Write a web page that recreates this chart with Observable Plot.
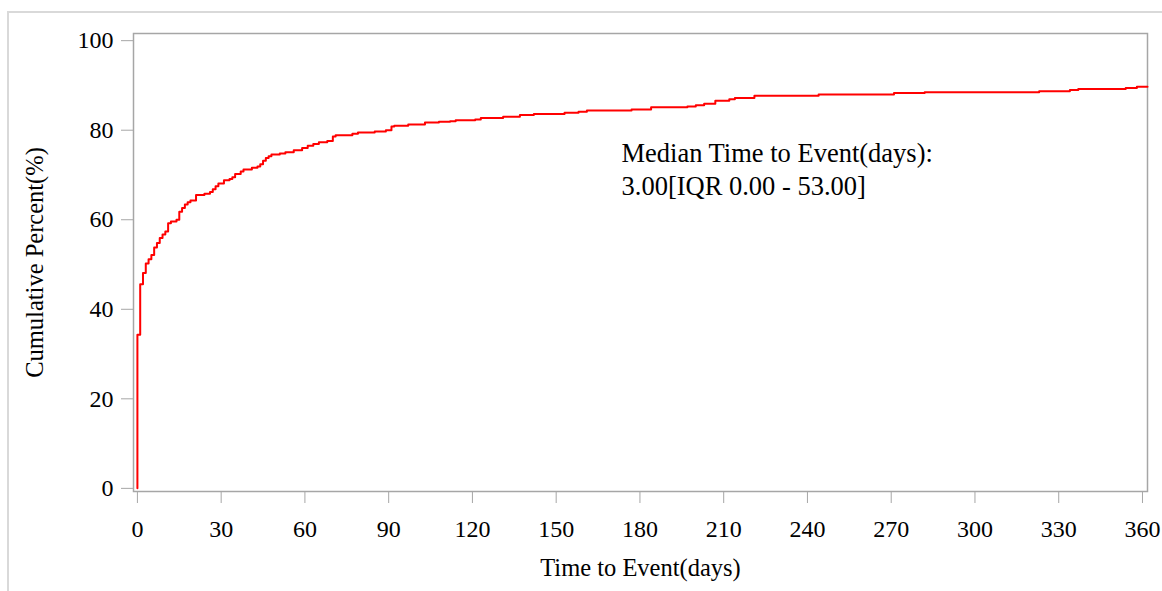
<!DOCTYPE html>
<html>
<head>
<meta charset="utf-8">
<script src="https://cdn.jsdelivr.net/npm/d3@7"></script>
<script src="https://cdn.jsdelivr.net/npm/@observablehq/plot@0.6"></script>
<style>
  html, body { margin: 0; padding: 0; background: #fff; }
  #wrap { position: relative; width: 1162px; height: 591px; overflow: hidden; }
  #border { position: absolute; left: 7px; top: 11px; width: 1200px; height: 700px;
            border-top: 2px solid #d9d9d9; border-left: 2px solid #d9d9d9; }
  #chart { position: absolute; left: 0; top: 0; }
</style>
</head>
<body>
<div id="wrap"><div id="border"></div><div id="chart"></div></div>
<script>
// Event times (days) and cumulative percent at each step
const days = [0, 0, 1, 2, 3, 4, 5, 6, 7, 8, 9, 10, 11, 12, 14, 15, 16, 17, 18, 19, 21, 24, 26, 27, 28, 29, 31, 33, 34, 35, 37, 38, 41, 43, 44, 45, 46, 47, 48, 51, 53, 56, 59, 61, 63, 65, 68, 70, 71, 77, 79, 85, 89, 91, 92, 97, 103, 108, 112, 114, 121, 123, 131, 137, 142, 153, 158, 161, 177, 184, 197, 200, 203, 207, 212, 214, 221, 244, 271, 282, 323, 334, 337, 354, 358, 361.8];
const cumPct = [0, 34.3, 45.6, 48.1, 50.2, 51.2, 52.1, 53.8, 54.8, 55.9, 56.7, 57.4, 59.2, 59.6, 60.0, 61.8, 62.6, 63.4, 63.9, 64.3, 65.5, 65.8, 66.2, 66.8, 67.5, 68.1, 68.8, 69.1, 69.5, 70.2, 70.8, 71.2, 71.6, 71.9, 72.4, 73.2, 73.8, 74.2, 74.6, 74.8, 75.1, 75.5, 76.0, 76.5, 76.9, 77.3, 77.6, 78.6, 78.9, 79.2, 79.5, 79.7, 80.0, 80.8, 81.0, 81.3, 81.7, 81.9, 82.0, 82.2, 82.4, 82.7, 83.0, 83.4, 83.6, 83.9, 84.1, 84.4, 84.6, 85.1, 85.3, 85.6, 85.9, 86.6, 86.9, 87.2, 87.7, 88.0, 88.3, 88.5, 88.7, 89.0, 89.2, 89.4, 89.7, 89.7];

const xTicks = [0, 30, 60, 90, 120, 150, 180, 210, 240, 270, 300, 330, 360];
const yTicks = [0, 20, 40, 60, 80, 100];

const annotationLines = ["Median Time to Event(days):", "3.00[IQR 0.00 - 53.00]"];
const annotationPos = {day: 173.4, pct: 71.5};

const xTitle = "Time to Event(days)";
const yTitle = "Cumulative Percent(%)";

const data = days.map((d, i) => ({day: d, pct: cumPct[i]}));

const gray = "#a6a6a6";
const fs = 24;

const chart = Plot.plot({
  width: 1162,
  height: 591,
  marginLeft: 133,
  marginRight: 15,
  marginTop: 33,
  marginBottom: 100,
  style: {fontFamily: "'Liberation Serif', 'Times New Roman', serif", fontSize: fs + "px", background: "transparent", color: "black"},
  x: {domain: [-1.4, 361.8]},
  y: {domain: [-0.7, 101.6]},
  marks: [
    Plot.frame({stroke: gray, strokeWidth: 1.5}),
    Plot.axisX({ticks: xTicks, tickSize: 12, tickPadding: 16, stroke: gray, color: "black", fontSize: fs, label: null, tickFormat: d => String(d)}),
    Plot.axisY({ticks: yTicks, tickSize: 12, tickPadding: 8, stroke: gray, color: "black", fontSize: fs, label: null, tickFormat: d => String(d)}),
    Plot.text([xTitle], {frameAnchor: "bottom", text: d => d, dy: 84, fontSize: fs + 0.5, fill: "black"}),
    Plot.text([yTitle], {frameAnchor: "left", textAnchor: "middle", text: d => d, dx: -98, rotate: -90, fontSize: fs + 0.5, fill: "black"}),
    Plot.line(data, {x: "day", y: "pct", curve: "step-after", stroke: "#ff0000", strokeWidth: 2}),
    Plot.text([annotationLines.join("\n")], {x: () => annotationPos.day, y: () => annotationPos.pct, text: d => d, textAnchor: "start", lineAnchor: "middle", lineHeight: 1.24, fontSize: fs + 2.5, fill: "black"})
  ]
});
document.getElementById("chart").appendChild(chart);
</script>
</body>
</html>
